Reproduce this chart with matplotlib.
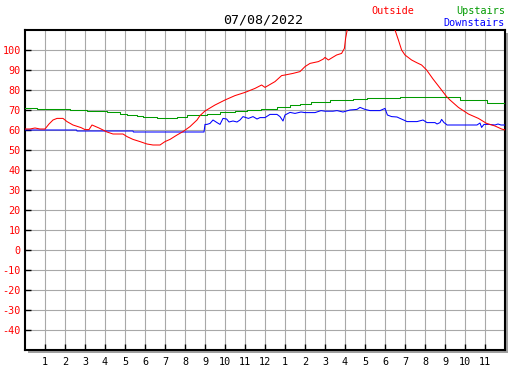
import matplotlib
matplotlib.use("Agg")
import matplotlib.pyplot as plt
from matplotlib.patches import Rectangle

# ---- data ----
title = "07/08/2022"
hour_ticks = list(range(1, 24))
hour_labels = ["1", "2", "3", "4", "5", "6", "7", "8", "9", "10", "11", "12",
               "1", "2", "3", "4", "5", "6", "7", "8", "9", "10", "11"]
y_ticks = list(range(-40, 101, 10))

outside_t = [0, 0.25, 0.5, 0.75, 1.0, 1.2, 1.4, 1.6, 1.9, 2.1, 2.4, 2.8, 3.0, 3.2,
             3.35, 3.7, 4.1, 4.4, 4.9, 5.1, 5.4, 5.75, 6.1, 6.4, 6.75, 7.0, 7.25,
             7.6, 7.9, 8.25, 8.6, 8.75, 9.0, 9.5, 10.0, 10.5, 11.0, 11.5, 11.83,
             12.0, 12.5, 12.83, 13.0, 13.4, 13.75, 14.0, 14.25, 14.67, 14.92, 15.0,
             15.17, 15.33, 15.58, 15.83, 15.97, 16.03, 16.1, 16.2, 17.0, 18.0,
             18.45, 18.5, 18.67, 18.83, 19.0, 19.33, 19.58, 19.83, 20.08, 20.4,
             20.75, 21.08, 21.25, 21.67, 22.17, 22.67, 23.08, 23.5, 23.83, 24.0]
outside_v = [60.5, 60.5, 61, 60.5, 60.5, 63, 65, 65.8, 65.8, 64.2, 62.5, 61.2, 60.2, 60.2,
             62.5, 61, 59, 58, 58, 56.7, 55.3, 54.2, 53, 52.5, 52.5, 54.2, 55.3,
             57.5, 59.2, 61.7, 65, 67.2, 69.5, 72.5, 75, 77.2, 78.8, 80.8, 82.5,
             81.3, 84.2, 87.2, 87.5, 88.3, 89.2, 91.7, 93.3, 94.2, 95.5, 96.3,
             95, 96, 97.5, 98.3, 100.8, 105.8, 109.5, 115, 125, 125,
             112, 110, 105, 100, 97.5, 95, 93.7, 92.5, 90, 85.5,
             81, 76.7, 75, 71.3, 68, 65.8, 63.3, 62, 60.5, 60]

upstairs_t = [0, 0.5, 0.6, 2.25, 3.08, 4.08, 4.75, 5.08, 5.58, 5.92, 6.58, 7.58, 8.08,
              9.08, 9.75, 10.5, 11.1, 11.8, 12.6, 13.25, 13.75, 14.3, 15.25, 16.4,
              17.1, 18.75, 20.75, 21.75, 23.1, 24]
upstairs_v = [70.8, 71.0, 70.3, 70.0, 69.3, 68.8, 68.2, 67.6, 67.0, 66.5, 66.0, 66.6, 67.5,
              68.2, 69.0, 69.6, 70.0, 70.6, 71.4, 72.3, 73.0, 73.8, 75.0, 75.5,
              75.8, 76.7, 76.3, 75.0, 73.6, 73.6]

downstairs_t = [0, 2.58, 2.6, 5.4, 5.42, 8.95, 9.0, 9.1, 9.25, 9.4, 9.6, 9.75, 9.9, 10.08,
                10.2, 10.4, 10.6, 10.75, 10.9, 11.17, 11.4, 11.6, 11.75, 12.0, 12.25,
                12.6, 12.75, 12.9, 13.0, 13.25, 13.5, 13.8, 14.0, 14.5, 14.8, 15.0, 15.4,
                15.6, 15.9, 16.25, 16.6, 16.75, 17.0, 17.25, 17.75, 18.0, 18.12, 18.33,
                18.6, 18.75, 19.0, 19.1, 19.6, 19.9, 20.1, 20.5, 20.6, 20.75, 20.83,
                20.95, 21.05, 21.1, 22.6, 22.75, 22.83, 22.95, 23.2, 23.5, 23.65, 23.8, 24]
downstairs_v = [60.0, 60.0, 59.5, 59.5, 59.0, 59.0, 62.8, 62.8, 63.3, 65, 63.7, 62.8, 65.8, 65.5,
                64, 64.5, 64, 65, 66.7, 65.8, 66.7, 65.5, 66.2, 66.2, 67.8,
                67.8, 66.7, 64.5, 67.5, 68.8, 68.3, 69.0, 68.7, 68.7, 69.7, 69.4, 69.4,
                69.7, 69.0, 70, 70.3, 71.3, 70.3, 69.7, 69.7, 70.8, 67.5, 66.7,
                66.5, 65.8, 64.7, 64.2, 64.2, 65, 63.7, 63.7, 63.0, 63.7, 65.3,
                63.7, 63.0, 62.5, 62.5, 63.5, 61.3, 62.8, 62.8, 62.5, 63.0, 62.5, 62.5]

# ---- figure ----
W, H = 527, 370
fig = plt.figure(figsize=(W / 100, H / 100), dpi=100)
fig.patch.set_facecolor("white")

x0, x1, ytop, ybot = 25, 505, 30, 350
ax = fig.add_axes([x0 / W, (H - ybot) / H, (x1 - x0) / W, (ybot - ytop) / H])
ax.set_facecolor("white")

# drop shadow
fig.patches.append(Rectangle(((x0 + 3) / W, (H - ybot - 3) / H), (x1 - x0) / W, (ybot - ytop) / H,
                             transform=fig.transFigure, facecolor="#a0a0a0",
                             edgecolor="none", zorder=-1))

mono = "DejaVu Sans Mono"
lw = 0.75
ax.plot(upstairs_t, upstairs_v, color="#009a00", lw=lw, drawstyle="steps-post", zorder=3)
ax.plot(downstairs_t, downstairs_v, color="#0000ff", lw=lw, zorder=4)
ax.plot(outside_t, outside_v, color="#ff0000", lw=lw, zorder=5)

ax.set_xlim(0, 24)
ax.set_ylim(-50, 110)
ax.set_xticks(hour_ticks)
ax.set_xticklabels(hour_labels, fontfamily=mono, fontsize=7.3, color="black")
ax.set_yticks(y_ticks)
ax.set_yticklabels([str(v) for v in y_ticks], fontfamily=mono, fontsize=7.3, color="#ff0000")
ax.tick_params(axis="x", direction="in", length=4, width=1, pad=5, colors="black")
ax.tick_params(axis="x", labelcolor="black")
ax.tick_params(axis="y", direction="in", length=4, width=1, pad=3, colors="black")
ax.tick_params(axis="y", labelcolor="#ff0000")
ax.grid(True, color="#a8a8a8", lw=0.8)
ax.set_axisbelow(True)
for s in ax.spines.values():
    s.set_linewidth(1.5)
    s.set_color("black")

fs = 7.3
fig.text(263 / W, 1 - 20 / H, title, ha="center", va="center", fontfamily=mono, fontsize=9.6)
fig.text(393 / W, 1 - 11 / H, "Outside", ha="center", va="center", fontfamily=mono,
         fontsize=fs, color="#ff0000")
fig.text(505 / W, 1 - 11 / H, "Upstairs", ha="right", va="center", fontfamily=mono,
         fontsize=fs, color="#009a00")
fig.text(505 / W, 1 - 23 / H, "Downstairs", ha="right", va="center", fontfamily=mono,
         fontsize=fs, color="#0000ff")

fig.savefig("out.png", dpi=100, facecolor="white")
